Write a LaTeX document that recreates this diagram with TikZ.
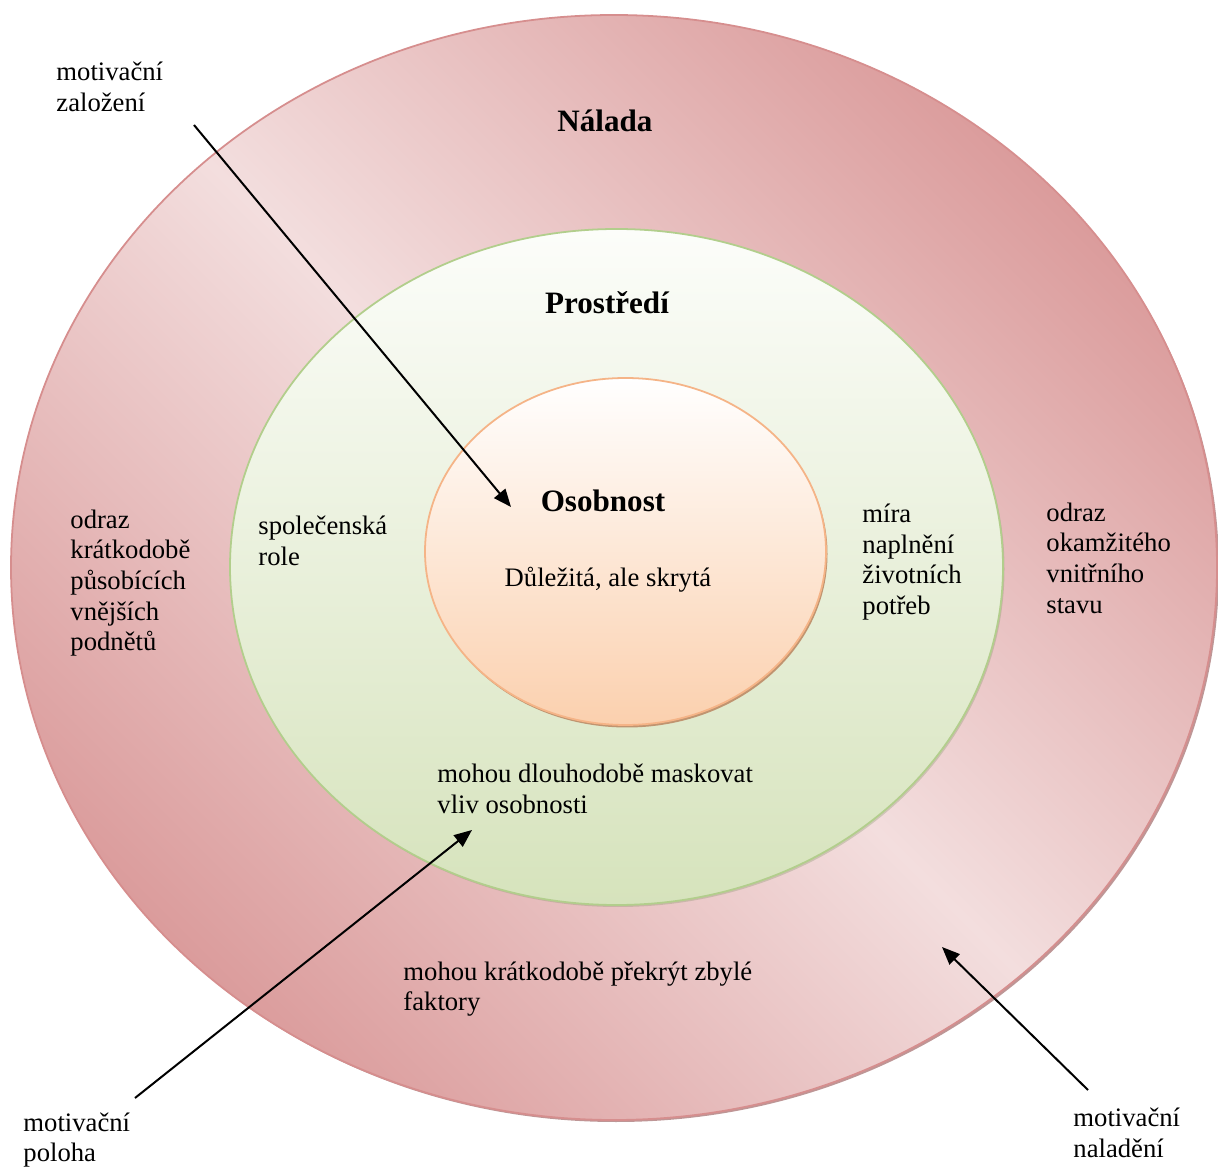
\documentclass[tikz,border=0pt]{standalone}
\usepackage{fontspec}
\setmainfont{Liberation Serif}
\usetikzlibrary{arrows.meta}
\definecolor{naladaDark}{RGB}{219,156,156}
\definecolor{naladaLight}{RGB}{243,222,222}
\definecolor{naladaLine}{RGB}{214,142,142}
\definecolor{naladaShadow}{RGB}{190,150,150}
\definecolor{prostrediTop}{RGB}{252,253,250}
\definecolor{prostrediBottom}{RGB}{214,227,188}
\definecolor{prostrediLine}{RGB}{178,206,140}
\definecolor{osobnostBottom}{RGB}{251,208,174}
\definecolor{osobnostLine}{RGB}{245,180,135}
\definecolor{osobnostShadow}{RGB}{192,148,112}
\begin{document}
\begin{tikzpicture}[x=0.45pt,y=-0.45pt,
  lbl/.style={align=left,anchor=west,inner sep=0pt,font=\fontsize{12}{13.8}\selectfont},
  ttl/.style={inner sep=0pt,font=\fontsize{14}{16}\selectfont\bfseries},
  arr/.style={line width=0.9pt,-{Triangle[length=8pt,width=6.5pt]}}]
  \useasboundingbox (0,0) rectangle (1218,1167);
  \fill[naladaShadow] (616,570) ellipse (603 and 552);
  \shade[top color=naladaDark,bottom color=naladaDark,middle color=naladaLight,
    shading angle=-45,draw=naladaLine,line width=0.8pt] (614,567.5) ellipse (603 and 552.5);
  \fill[prostrediLine!70!black,opacity=0.3] (618,569) ellipse (386.5 and 338);
  \shade[top color=prostrediTop,bottom color=prostrediBottom,
    draw=prostrediLine,line width=0.8pt] (616.5,567) ellipse (386.5 and 338);
  \fill[osobnostShadow] (627,554) ellipse (200.5 and 173.5);
  \shade[top color=white,bottom color=osobnostBottom,
    draw=osobnostLine,line width=0.8pt] (625.5,551.5) ellipse (200.5 and 173.5);

  \node[ttl] (nalada) at (605,121) {Nálada};
  \node[ttl] (prostredi) at (607,303) {Prostředí};
  \node[ttl] (osobnost) at (603,501) {Osobnost};
  \node[lbl,anchor=center] (skryta) at (608,580) {Důležitá, ale skrytá};

  \node[lbl] (zalozeni) at (56,87) {motivační\\založení};
  \node[lbl] (role) at (258,541) {společenská\\role};
  \node[lbl] (potreby) at (862,562) {míra\\naplnění\\životních\\potřeb};
  \node[lbl] (podnety) at (70,583) {odraz\\krátkodobě\\působících\\vnějších\\podnětů};
  \node[lbl] (stav) at (1046,558) {odraz\\okamžitého\\vnitřního\\stavu};
  \node[lbl] (maskovat) at (437,789) {mohou dlouhodobě maskovat\\vliv osobnosti};
  \node[lbl] (prekryt) at (403,989) {mohou krátkodobě překrýt zbylé\\faktory};
  \node[lbl] (poloha) at (23,1140) {motivační\\poloha};
  \node[lbl] (naladeni) at (1073,1133) {motivační\\naladění};

  \coordinate (zalozeniStart) at (194,125);
  \coordinate (zalozeniEnd) at (511,507);
  \coordinate (polohaStart) at (135,1098);
  \coordinate (polohaEnd) at (472,830);
  \coordinate (naladeniStart) at (1088,1090);
  \coordinate (naladeniEnd) at (942,947);
  \draw[arr] (zalozeniStart) -- (zalozeniEnd);
  \draw[arr] (polohaStart) -- (polohaEnd);
  \draw[arr] (naladeniStart) -- (naladeniEnd);
\end{tikzpicture}
\end{document}
